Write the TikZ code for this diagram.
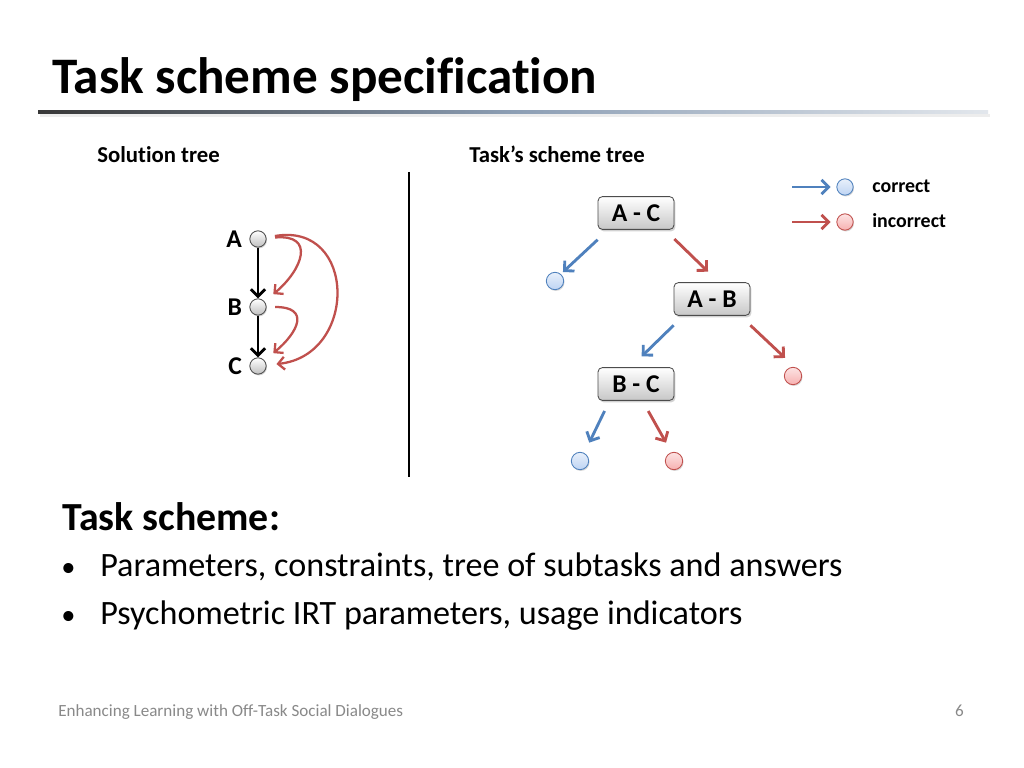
\documentclass[tikz,border=0pt]{standalone}
\usepackage{fontspec}
\setmainfont{Carlito}[RawFeature={-liga;-clig;-dlig;-rlig}]
\usepackage{tikz}
\usetikzlibrary{arrows.meta,shadows,calc}
\definecolor{schemeblue}{RGB}{79,129,189}
\definecolor{schemered}{RGB}{192,80,77}
\definecolor{okfill}{RGB}{190,212,243}
\definecolor{badfill}{RGB}{247,176,176}
\definecolor{schemefoot}{RGB}{137,137,137}
\definecolor{schemerule}{RGB}{140,158,180}

\begin{document}
\begin{tikzpicture}[x=0.703125pt,y=-0.703125pt,
    every node/.style={inner sep=0pt},
    solnode/.style={circle,draw=black!70,line width=0.6pt,minimum size=11.5pt,
      top color=white,bottom color=black!25,
      drop shadow={shadow xshift=0.6pt,shadow yshift=-0.9pt,opacity=0.3}},
    leafok/.style={circle,draw=schemeblue,line width=0.6pt,minimum size=12.2pt,
      top color=okfill!35,bottom color=okfill,
      drop shadow={shadow xshift=0.6pt,shadow yshift=-0.9pt,opacity=0.3}},
    leafbad/.style={circle,draw=schemered,line width=0.6pt,minimum size=12.2pt,
      top color=badfill!35,bottom color=badfill,
      drop shadow={shadow xshift=0.6pt,shadow yshift=-0.9pt,opacity=0.3}},
    taskbox/.style={draw=black!70,line width=0.6pt,rounded corners=3pt,
      minimum width=53.4pt,minimum height=23pt,top color=white,bottom color=black!22,
      font=\bfseries\fontsize{18}{20}\selectfont,
      drop shadow={shadow xshift=1pt,shadow yshift=-1.4pt,opacity=0.35}},
    okarrow/.style={draw=schemeblue,line width=2pt,-{Straight Barb[length=5pt,width=10pt]}},
    badarrow/.style={draw=schemered,line width=2pt,-{Straight Barb[length=5pt,width=10pt]}},
    solarrow/.style={draw=black,line width=2pt,-{Straight Barb[length=5pt,width=10pt]}},
    backarc/.style={draw=schemered,line width=1.6pt,-{Straight Barb[length=4.5pt,width=9pt]}},
    sollabel/.style={font=\bfseries\fontsize{18}{20}\selectfont},
    heading/.style={anchor=base west,font=\bfseries\fontsize{16}{18}\selectfont}]
  \fill[white] (0,0) rectangle (1024,768);
  \useasboundingbox (0,0) rectangle (1024,768);

  % title and rule
  \node[anchor=base west,font=\bfseries\fontsize{36}{40}\selectfont] (title) at (52,94) {Task scheme specification};
  \fill[black!7] (40,114) rectangle (990,117);
  \shade[left color=black!78,right color=schemerule!25,middle color=schemerule] (38,110.5) rectangle (988,113.5);

  % headings
  \node[heading] (soltitle) at (97,163) {Solution tree};
  \node[heading] (schemetitle) at (469,163) {Task’s scheme tree};
  \draw[line width=0.8pt] (409,172) -- (409,477);

  % solution tree
  \node[solnode,label={[sollabel,label distance=5pt]left:A}] (a) at (258,239) {};
  \node[solnode,label={[sollabel,label distance=5pt]left:B}] (b) at (258,307) {};
  \node[solnode,label={[sollabel,label distance=5pt]left:C}] (c) at (258,366) {};
  \draw[solarrow] (a) -- (b);
  \draw[solarrow] (b) -- (c);
  \draw[backarc,shorten <=6pt,shorten >=8pt] (a) to[out=5,in=40,looseness=2] (b);
  \draw[backarc,shorten <=6pt,shorten >=8pt] (b) to[out=0,in=40,looseness=2.1] (c);
  \draw[backarc,shorten <=6pt,shorten >=7pt] (a) to[out=10,in=6,looseness=1.85] (c);

  % scheme tree
  \node[taskbox] (ac) at (636,213) {A - C};
  \node[taskbox] (ab) at (712,299) {A - B};
  \node[taskbox] (bc) at (636,384) {B - C};
  \node[leafok] (l1) at (555,281) {};
  \node[leafbad] (l2) at (793,376) {};
  \node[leafok] (l3) at (580,461) {};
  \node[leafbad] (l4) at (674,461) {};
  \draw[okarrow] ([yshift=-7pt]ac.south west) -- ([shift={(5.6pt,6.3pt)}]l1.center);
  \draw[badarrow] ([yshift=-6.5pt]ac.south east) -- ([shift={(-2.8pt,7.4pt)}]ab.north);
  \draw[okarrow] ([yshift=-6.7pt]ab.south west) -- ([shift={(4pt,7.6pt)}]bc.north);
  \draw[badarrow] ([yshift=-6.7pt]ab.south east) -- ([shift={(-5.6pt,12.7pt)}]l2.center);
  \draw[okarrow] ([shift={(4.9pt,-7.2pt)}]bc.south west) -- ([shift={(6.5pt,12.9pt)}]l3.center);
  \draw[badarrow] ([shift={(8.6pt,-7.2pt)}]bc.south) -- ([shift={(-5.6pt,12.9pt)}]l4.center);

  % legend
  \node[leafok,minimum size=11.5pt] (okkey) at (845,187) {};
  \node[leafbad,minimum size=11.5pt] (badkey) at (845,222) {};
  \draw[okarrow] ([xshift=-31pt]okkey.west) -- ([xshift=-4pt]okkey.west);
  \draw[badarrow] ([xshift=-31pt]badkey.west) -- ([xshift=-4pt]badkey.west);
  \node[anchor=base west,font=\bfseries\fontsize{14}{16}\selectfont] (okword) at (872,193) {correct};
  \node[anchor=base west,font=\bfseries\fontsize{14}{16}\selectfont] (badword) at (872,228) {incorrect};

  % task scheme text
  \node[anchor=base west,font=\bfseries\fontsize{28}{32}\selectfont] (schemehead) at (62,530) {Task scheme:};
  \foreach \n/\y/\txt in {1/576/{Parameters, constraints, tree of subtasks and answers},
                          2/624/{Psychometric IRT parameters, usage indicators}} {
    \node[anchor=base west,font=\fontsize{20}{24}\selectfont] (dot\n) at (61,\y) {•};
    \node[anchor=base west,font=\fontsize{24}{28}\selectfont] (item\n) at (100,\y) {\txt};
  }

  % footer
  \node[anchor=base west,font=\fontsize{12}{14}\selectfont,text=schemefoot] (footer) at (58,716) {Enhancing Learning with Off-Task Social Dialogues};
  \node[anchor=base east,font=\fontsize{12}{14}\selectfont,text=schemefoot] (pagenum) at (964,716) {6};
\end{tikzpicture}
\end{document}
